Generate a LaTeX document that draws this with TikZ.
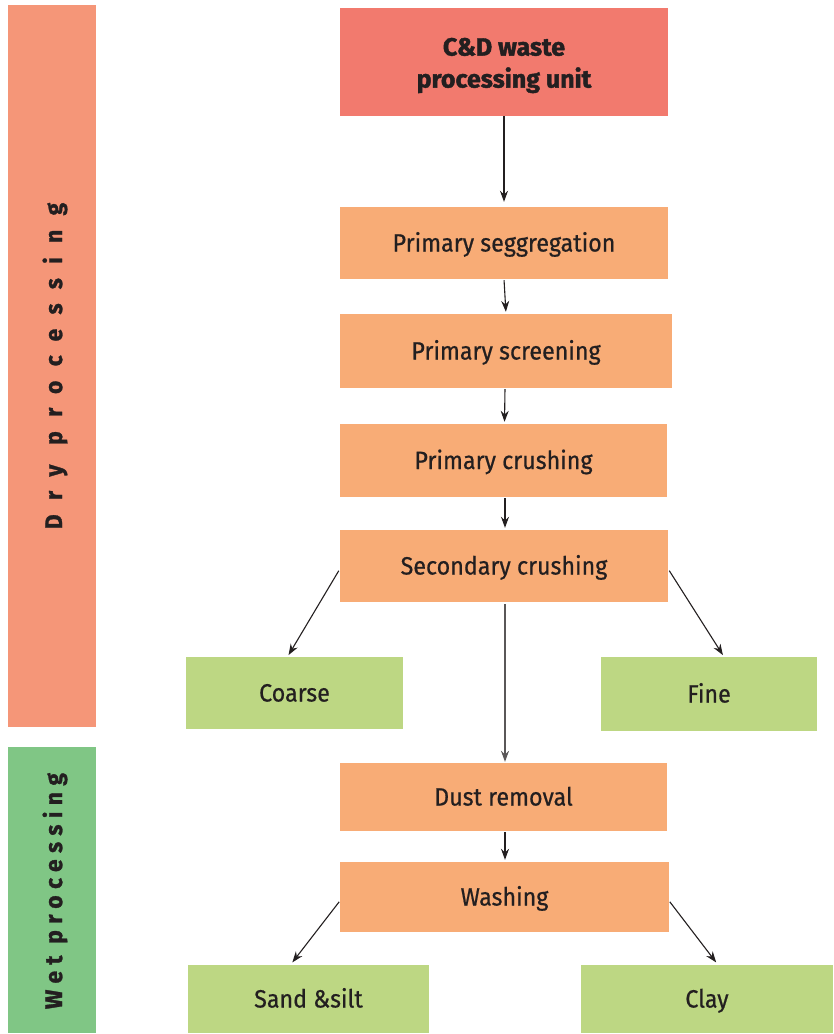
\documentclass[tikz,border=0pt]{standalone}
\usepackage{fontspec}
\setmainfont{Fira Sans}[FakeStretch=0.93,FakeBold=0.6]
\newfontfamily\topfont{Fira Sans}[FakeStretch=1.0,FakeBold=1.6]
\newfontfamily\sidefont{Fira Sans}[FakeStretch=0.95,FakeBold=1.2,LetterSpace=60]
\newfontfamily\sidefontb{Fira Sans}[FakeStretch=0.95,FakeBold=1.2,LetterSpace=27]
\usetikzlibrary{arrows.meta}
\definecolor{dryc}{RGB}{245,150,120}
\definecolor{wetc}{RGB}{128,198,133}
\definecolor{topc}{RGB}{242,122,110}
\definecolor{stepc}{RGB}{248,172,118}
\definecolor{outc}{RGB}{189,215,131}
\definecolor{ink}{RGB}{35,31,32}
\tikzset{
  stepbox/.style={fill=stepc, draw=none, inner sep=0pt, text=ink, text height=17pt, text depth=0pt, font=\fontsize{25}{28}\selectfont},
  outbox/.style={fill=outc, draw=none, inner sep=0pt, text=ink, text height=17pt, text depth=0pt, font=\fontsize{25}{28}\selectfont},
  conn/.style={draw=ink, line width=1.1pt, -{Stealth[length=11pt,width=8pt]}},
  sidelabel/.style={rotate=90, text=ink}
}
\begin{document}
\begin{tikzpicture}[x=1pt,y=-1pt]
\useasboundingbox (0,0) rectangle (834,1034);
% side bars
\fill[dryc] (8,5) rectangle (96,727);
\fill[wetc] (8,747) rectangle (96,1033);
\node[sidelabel, font=\sidefont\bfseries\fontsize{24}{28}\selectfont] (dry) at (55,366) {Dry processing};
\node[sidelabel, font=\sidefontb\bfseries\fontsize{24}{28}\selectfont] (wet) at (55,891) {Wet processing};
% boxes
\node[fill=topc, minimum width=328pt, minimum height=108pt, inner sep=0pt] (top) at (504,62) {};
\node[text=ink, align=center, inner sep=0pt,
      font=\topfont\bfseries\fontsize{25}{32}\selectfont] (toptext) at (504,65.5) {C\&D waste\\processing unit};
\node[stepbox, minimum width=328pt, minimum height=72pt] (seg) at (504,243) {Primary seggregation};
\node[stepbox, minimum width=332pt, minimum height=74pt] (scr) at (506,351) {Primary screening};
\node[stepbox, minimum width=327pt, minimum height=73pt] (pcr) at (503.5,460.5) {Primary crushing};
\node[stepbox, minimum width=328pt, minimum height=72pt] (scd) at (504,566) {Secondary crushing};
\node[outbox, minimum width=217pt, minimum height=72pt] (coarse) at (294.5,693) {Coarse};
\node[outbox, minimum width=216pt, minimum height=74pt] (fine) at (709,694) {Fine};
\node[stepbox, minimum width=327pt, minimum height=68pt] (dust) at (503.5,797) {Dust removal};
\node[stepbox, minimum width=329pt, minimum height=70pt] (wash) at (504.5,897) {Washing};
\node[outbox, minimum width=241pt, minimum height=68pt] (sand) at (308.5,999) {Sand \&silt};
\node[outbox, minimum width=252pt, minimum height=68pt] (clay) at (707,999) {Clay};
% connectors
\draw[conn, shorten >=5pt] (top.south) -- (seg.north);
\draw[conn, shorten <=1pt, shorten >=2pt] (seg.south) -- (scr.north);
\draw[conn, shorten <=1pt, shorten >=2pt] ([xshift=-1pt]scr.south) -- ([xshift=1pt]pcr.north);
\draw[conn, shorten <=1pt, shorten >=2pt] ([xshift=1.5pt]pcr.south) -- ([xshift=1pt]scd.north);
\draw[conn, draw=ink!75, shorten <=2pt, shorten >=1pt] ([xshift=1pt]scd.south) -- ([xshift=1.5pt]dust.north);
\draw[conn, shorten <=1pt, shorten >=2pt] ([xshift=1.5pt]dust.south) -- ([xshift=0.5pt]wash.north);
\draw[conn, shorten <=2pt, shorten >=2pt] ([yshift=-3pt]scd.west) -- ([xshift=-7pt]coarse.north);
\draw[conn, shorten <=2pt, shorten >=2pt] ([yshift=-3pt]scd.east) -- ([xshift=15pt]fine.north);
\draw[conn, shorten <=1pt, shorten >=3pt] ([yshift=-4pt]wash.west) -- ([xshift=-18pt]sand.north);
\draw[conn, shorten <=1pt, shorten >=3pt] ([yshift=-4pt]wash.east) -- ([xshift=11pt]clay.north);
\end{tikzpicture}
\end{document}
